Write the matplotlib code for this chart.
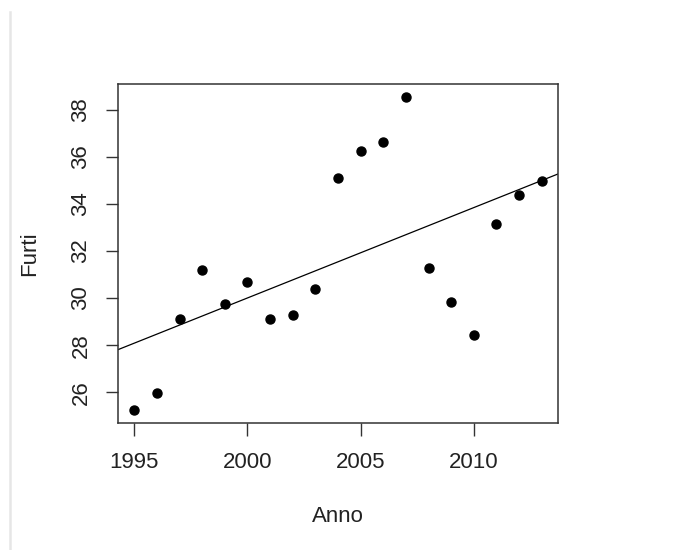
import matplotlib.pyplot as plt
import numpy as np

plt.rcParams['font.family'] = ['Liberation Sans', 'DejaVu Sans']

# furti per anno
anni = [1995, 1996, 1997, 1998, 1999, 2000, 2001, 2002, 2003, 2004,
        2005, 2006, 2007, 2008, 2009, 2010, 2011, 2012, 2013]
furti = [25.23, 25.95, 29.10, 31.19, 29.74, 30.68, 29.10, 29.28, 30.38, 35.10,
         36.26, 36.64, 38.55, 31.27, 29.83, 28.43, 33.15, 34.38, 34.98]
xticks = [1995, 2000, 2005, 2010]
yticks = [26, 28, 30, 32, 34, 36, 38]

fig = plt.figure(figsize=(6.78, 5.5), dpi=100)
ax = fig.add_axes([0.174, 0.231, 0.649, 0.616])

x = np.array(anni, dtype=float)
y = np.array(furti)
ax.plot(x, y, 'o', color='black', markersize=6.5)

# retta di regressione (come abline(lm(...)))
b, a = np.polyfit(x, y, 1)
pad_x = 0.04 * (x.max() - x.min())
pad_y = 0.04 * (y.max() - y.min())
xlim = (x.min() - pad_x, x.max() + pad_x)
xs = np.array(xlim)
ax.plot(xs, a + b * xs, color='black', linewidth=0.9)

ax.set_xlim(xlim)
ax.set_ylim(y.min() - pad_y, y.max() + pad_y)
ax.set_xticks(xticks)
ax.set_yticks(yticks)
ax.set_yticklabels([str(t) for t in yticks], rotation=90, va='center')
ax.tick_params(labelsize=16, length=9, width=1, color='#333333', colors='#222222')
ax.tick_params(axis='x', pad=12)
ax.tick_params(axis='y', pad=10)
for s in ax.spines.values():
    s.set_color('#333333')
    s.set_linewidth(1.1)

ax.set_xlabel('Anno', fontsize=16, labelpad=24, color='#222222')
ax.set_ylabel('Furti', fontsize=16, labelpad=22, color='#222222')

# bordo grigio a sinistra
fig.add_artist(plt.Line2D([10 / 678, 10 / 678], [0, 1 - 12 / 550],
                          transform=fig.transFigure, color='#e6e6e6', linewidth=1.8))

fig.savefig('out.png', dpi=100)
